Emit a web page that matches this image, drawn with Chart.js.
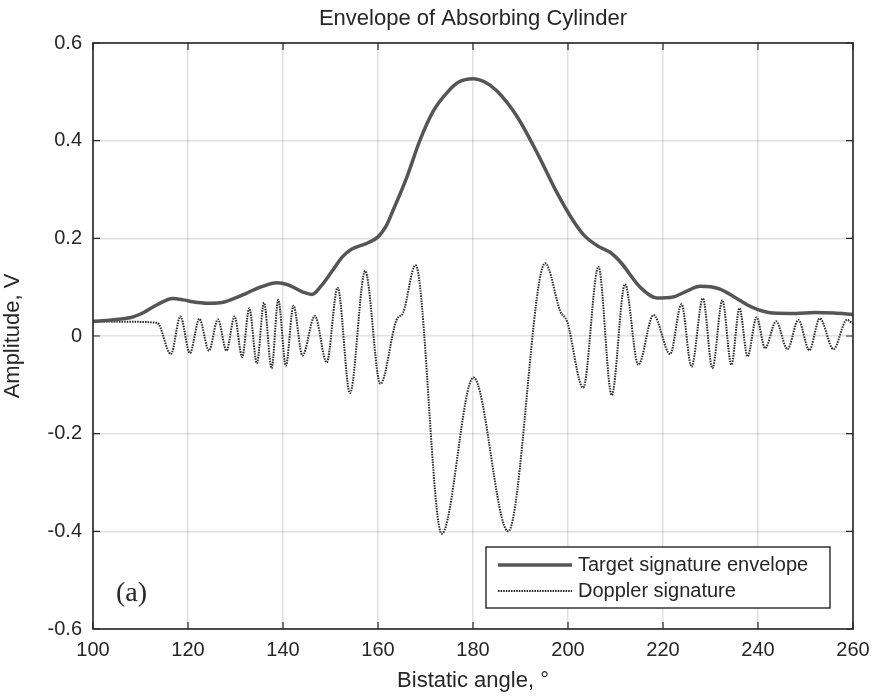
<!DOCTYPE html>
<html>
<head>
<meta charset="utf-8">
<script src="https://cdn.jsdelivr.net/npm/chart.js@4.4.1/dist/chart.umd.min.js"></script>
<style>
  html, body { margin: 0; padding: 0; background: #fff; }
</style>
</head>
<body>
<canvas id="envChart" width="873" height="700"></canvas>
<script>
// data
var envAngles = [100, 104, 108, 110, 113.5, 116.8, 119, 121, 124, 126.7, 130, 132.4, 135.5, 138.7, 141, 144.2, 146.1, 148, 150.5, 152.5, 154.5, 157.7, 160, 161.7, 163.2, 166.1, 168.8, 171.6, 174.5, 177, 180, 182.5, 185, 189.3, 193.5, 197.7, 201.1, 203.5, 206.5, 208.8, 211, 215.2, 218.7, 222.1, 225, 227.8, 230, 232, 235, 237.7, 240, 243.2, 248, 252, 256, 260];
var envValues = [0.030, 0.033, 0.038, 0.045, 0.064, 0.077, 0.074, 0.070, 0.067, 0.068, 0.078, 0.088, 0.101, 0.109, 0.105, 0.090, 0.085, 0.102, 0.135, 0.162, 0.178, 0.190, 0.203, 0.225, 0.258, 0.326, 0.400, 0.460, 0.498, 0.520, 0.527, 0.520, 0.502, 0.449, 0.375, 0.293, 0.236, 0.205, 0.183, 0.172, 0.152, 0.100, 0.078, 0.080, 0.092, 0.102, 0.101, 0.096, 0.080, 0.064, 0.054, 0.047, 0.046, 0.048, 0.047, 0.044];

var dopAngles = [100, 108, 113.5, 116.4, 118.4, 120.4, 122.4, 124.4, 126.3, 128.1, 129.8, 131.4, 132.9, 134.5, 136, 137.6, 139, 140.6, 142.2, 144.1, 146.7, 149.2, 151.5, 154.1, 157.3, 160.5, 163.9, 165.3, 167.9, 173.4, 180.1, 187.4, 195.2, 198.4, 199.8, 203.2, 206.4, 209.2, 212, 214.8, 218, 221.5, 223.9, 226, 228.4, 230.4, 232.5, 234.4, 236.1, 237.8, 239.7, 241.5, 243.8, 246.2, 248.5, 250.8, 253, 255.9, 258.7, 260];
var dopValues = [0.030, 0.029, 0.027, -0.037, 0.040, -0.035, 0.035, -0.030, 0.034, -0.030, 0.040, -0.043, 0.057, -0.056, 0.068, -0.066, 0.074, -0.061, 0.062, -0.040, 0.041, -0.054, 0.099, -0.117, 0.133, -0.098, 0.033, 0.048, 0.145, -0.405, -0.085, -0.400, 0.149, 0.050, 0.030, -0.106, 0.142, -0.121, 0.106, -0.059, 0.043, -0.037, 0.065, -0.063, 0.077, -0.066, 0.073, -0.059, 0.057, -0.042, 0.038, -0.025, 0.030, -0.027, 0.033, -0.029, 0.036, -0.027, 0.033, 0.025];

var seriesNames = ['Target signature envelope', 'Doppler signature'];
var xTicks = [100, 120, 140, 160, 180, 200, 220, 240, 260];
var yTicks = [-0.6, -0.4, -0.2, 0, 0.2, 0.4, 0.6];
var yTickLabels = ['-0.6', '-0.4', '-0.2', '0', '0.2', '0.4', '0.6'];

function toPoints(xs, ys) {
  return xs.map(function (x, i) { return { x: x, y: ys[i] }; });
}

var textCol = '#262626';
var envCol = '#555555';
var dopCol = '#262626';

// axes box, inward ticks, title, legend and panel label
var decorations = {
  id: 'decorations',
  afterDatasetsDraw: function (chart) {
    var ctx = chart.ctx;
    var a = chart.chartArea;
    var xs = chart.scales.x, ys = chart.scales.y;
    ctx.save();
    ctx.strokeStyle = textCol;
    ctx.lineWidth = 1.6;
    ctx.strokeRect(a.left, a.top, a.right - a.left, a.bottom - a.top);
    ctx.lineWidth = 1.2;
    ctx.beginPath();
    xTicks.forEach(function (t) {
      var px = xs.getPixelForValue(t);
      ctx.moveTo(px, a.bottom); ctx.lineTo(px, a.bottom - 7);
      ctx.moveTo(px, a.top); ctx.lineTo(px, a.top + 7);
    });
    yTicks.forEach(function (t) {
      var py = ys.getPixelForValue(t);
      ctx.moveTo(a.left, py); ctx.lineTo(a.left + 7, py);
      ctx.moveTo(a.right, py); ctx.lineTo(a.right - 7, py);
    });
    ctx.stroke();

    // title
    ctx.fillStyle = textCol;
    ctx.font = '22px "Liberation Sans", Arial, sans-serif';
    ctx.textAlign = 'center';
    ctx.textBaseline = 'middle';
    ctx.fillText('Envelope of Absorbing Cylinder', (a.left + a.right) / 2, 19);

    // panel label
    ctx.font = '28px "Liberation Serif", "Times New Roman", serif';
    ctx.textAlign = 'left';
    ctx.fillText('(a)', 116, 594);

    // legend
    var bx = 486, by = 547, bw = 344, bh = 61;
    ctx.fillStyle = '#fff';
    ctx.fillRect(bx, by, bw, bh);
    ctx.strokeStyle = textCol;
    ctx.lineWidth = 1.4;
    ctx.strokeRect(bx, by, bw, bh);
    var rows = [565, 591];
    chart.data.datasets.forEach(function (ds, i) {
      ctx.save();
      ctx.strokeStyle = ds.borderColor;
      ctx.lineWidth = ds.borderWidth;
      ctx.setLineDash(ds.borderDash || []);
      ctx.beginPath();
      ctx.moveTo(498, rows[i]); ctx.lineTo(572, rows[i]);
      ctx.stroke();
      ctx.restore();
      ctx.fillStyle = textCol;
      ctx.font = '20px "Liberation Sans", Arial, sans-serif';
      ctx.textAlign = 'left';
      ctx.textBaseline = 'middle';
      ctx.fillText(ds.label, 578, rows[i]);
    });
    ctx.restore();
  }
};

var ctx = document.getElementById('envChart').getContext('2d');
var envChart = new Chart(ctx, {
  type: 'line',
  data: {
    datasets: [{
      label: seriesNames[0],
      data: toPoints(envAngles, envValues),
      borderColor: envCol,
      borderWidth: 3.5,
      pointRadius: 0,
      cubicInterpolationMode: 'monotone'
    }, {
      label: seriesNames[1],
      data: toPoints(dopAngles, dopValues),
      borderColor: dopCol,
      borderWidth: 2,
      borderDash: [1.5, 1.1],
      pointRadius: 0,
      cubicInterpolationMode: 'monotone'
    }]
  },
  options: {
    responsive: false,
    animation: false,
    layout: { padding: { left: 0, right: 20, top: 43, bottom: 0 } },
    plugins: {
      legend: { display: false },
      title: { display: false },
      tooltip: { enabled: false }
    },
    scales: {
      x: {
        type: 'linear',
        min: 100,
        max: 260,
        afterBuildTicks: function (s) { s.ticks = xTicks.map(function (v) { return { value: v }; }); },
        afterFit: function (s) { s.height = 71; s.paddingLeft = 0; s.paddingRight = 0; },
        ticks: {
          color: textCol,
          padding: 9,
          maxRotation: 0,
          font: { family: '"Liberation Sans", Arial, sans-serif', size: 20 }
        },
        grid: { color: 'rgba(0,0,0,0.12)', lineWidth: 1.5, drawTicks: false },
        border: { display: false },
        title: {
          display: true,
          text: 'Bistatic angle, °',
          color: textCol,
          padding: { top: 0, bottom: 6 },
          font: { family: '"Liberation Sans", Arial, sans-serif', size: 22 }
        }
      },
      y: {
        type: 'linear',
        min: -0.6,
        max: 0.6,
        afterBuildTicks: function (s) { s.ticks = yTicks.map(function (v) { return { value: v }; }); },
        afterFit: function (s) { s.width = 93; s.paddingTop = 0; s.paddingBottom = 0; },
        ticks: {
          color: textCol,
          padding: 11,
          callback: function (v) {
            var i = yTicks.findIndex(function (t) { return Math.abs(t - v) < 1e-9; });
            return i >= 0 ? yTickLabels[i] : '';
          },
          font: { family: '"Liberation Sans", Arial, sans-serif', size: 20 }
        },
        grid: { color: 'rgba(0,0,0,0.12)', lineWidth: 1.5, drawTicks: false },
        border: { display: false },
        title: {
          display: true,
          text: 'Amplitude, V',
          color: textCol,
          padding: { top: 0, bottom: 0 },
          font: { family: '"Liberation Sans", Arial, sans-serif', size: 22 }
        }
      }
    }
  },
  plugins: [decorations]
});
</script>
</body>
</html>
